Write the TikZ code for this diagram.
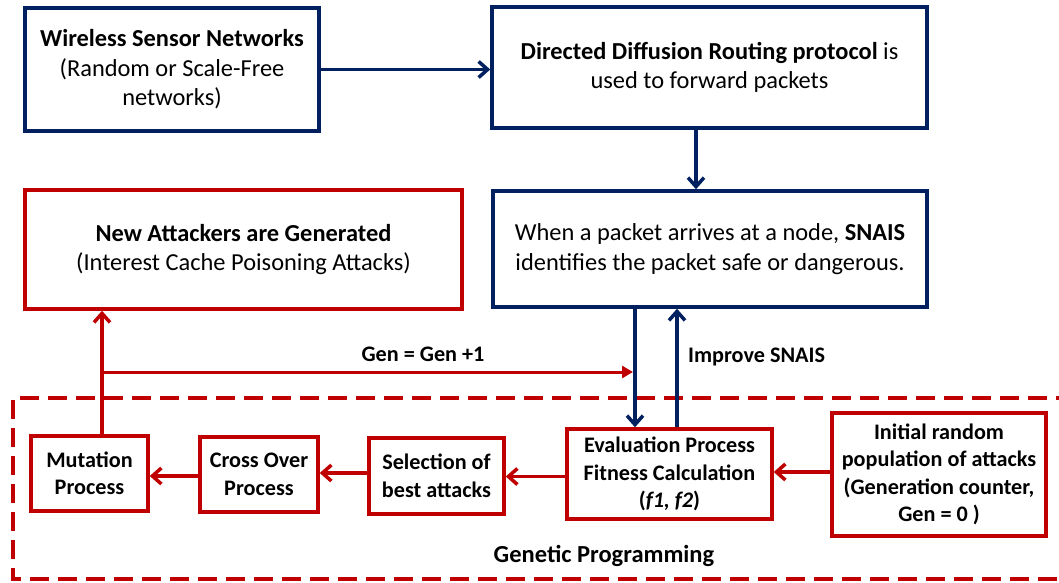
\documentclass[tikz,border=0pt]{standalone}
\usepackage{fontspec}
\setmainfont{Carlito}
\usetikzlibrary{arrows.meta}
\definecolor{navy}{HTML}{002060}
\definecolor{dred}{HTML}{C00000}
\tikzset{
  bigbox/.style={draw, line width=3.5pt, align=center, inner sep=0pt,
    font=\fontsize{24.4}{29.5}\selectfont},
  bluebox/.style={bigbox, draw=navy},
  redbox/.style={bigbox, draw=dred},
  smallbox/.style={draw=dred, line width=3.5pt, align=center, inner sep=0pt,
    font=\fontsize{22.2}{27.5}\selectfont\bfseries},
  barb/.style={-{Straight Barb[length=9pt,width=16pt]}},
  blueline/.style={draw=navy, line width=3.5pt, barb},
  redline/.style={draw=dred, line width=3.5pt, barb},
  lbl/.style={font=\fontsize{22.2}{26}\selectfont\bfseries, inner sep=0pt}
}
\begin{document}
\begin{tikzpicture}[x=1pt,y=-1pt]
\useasboundingbox (0,0) rectangle (1059,582);
\clip (0,0) rectangle (1059,582);
% dashed region
\draw[dred, line width=3.5pt, dash pattern=on 19pt off 9pt]
  (1075,398) -- (13,398) -- (13,579) -- (1075,579);
\node[lbl, font=\fontsize{24.5}{28}\selectfont\bfseries] (gp) at (604,556) {Genetic Programming};

% top boxes
\node[bluebox, minimum width=294pt, minimum height=123pt] (wsn) at (172,69.5)
  {\textbf{Wireless Sensor Networks}\\(Random or Scale-Free\\networks)};
\node[bluebox, minimum width=435pt, minimum height=121pt] (ddr) at (709.5,67.5)
  {\textbf{Directed Diffusion Routing protocol} is\\used to forward packets};
\node[bluebox, minimum width=434pt, minimum height=116pt] (snais) at (710,249)
  {When a packet arrives at a node, \textbf{SNAIS}\\identifies the packet safe or dangerous.};
\node[redbox, minimum width=437pt, minimum height=119pt] (att) at (243.5,249.5)
  {\textbf{New Attackers are Generated}\\(Interest Cache Poisoning Attacks)};

% bottom boxes
\node[smallbox, minimum width=117pt, minimum height=75pt] (mut) at (89.5,473.5)
  {Mutation\\Process};
\node[smallbox, minimum width=118pt, minimum height=75pt] (cross) at (259,474.5)
  {Cross Over\\Process};
\node[smallbox, minimum width=135pt, minimum height=76pt] (sel) at (436.5,476)
  {Selection of\\best attacks};
\node[smallbox, minimum width=205pt, minimum height=90pt] (eval) at (669.5,474)
  {Evaluation Process\\Fitness Calculation\\(\textit{f1, f2})};
\node[smallbox, minimum width=214pt, minimum height=123pt] (init) at (939,474.5)
  {Initial random\\population of attacks\\(Generation counter,\\Gen = 0 )};

% connectors
\draw[blueline] (wsn.east) -- (ddr.west |- wsn.east);
\draw[blueline] ([xshift=-13.5pt]ddr.south) -- ([xshift=-13.5pt]ddr.south |- snais.north);
\draw[blueline] ([xshift=-34.5pt]eval.north |- snais.south) -- ([xshift=-34.5pt]eval.north);
\draw[blueline] ([xshift=7.5pt]eval.north) -- ([xshift=7.5pt]eval.north |- snais.south);

\draw[redline] (init.west |- 0,472) -- (eval.east |- 0,472);
\draw[redline] (eval.west |- 0,476.5) -- (sel.east |- 0,476.5);
\draw[redline] (sel.west |- 0,473) -- (cross.east |- 0,473);
\draw[redline] (cross.west |- 0,476) -- (mut.east |- 0,476);

\draw[redline] ([xshift=12.5pt]mut.north) -- ([xshift=12.5pt]mut.north |- att.south);
\coordinate (g) at (102,372);
\coordinate (gend) at (633,372);
\draw[draw=dred, line width=3pt, -{Triangle[length=11pt,width=12pt]}] (g) -- (gend);
\node[lbl] (genlbl) at (423,354) {Gen = Gen +1};
\node[lbl, anchor=west] (imp) at (688,357) {Improve SNAIS};
\end{tikzpicture}
\end{document}
